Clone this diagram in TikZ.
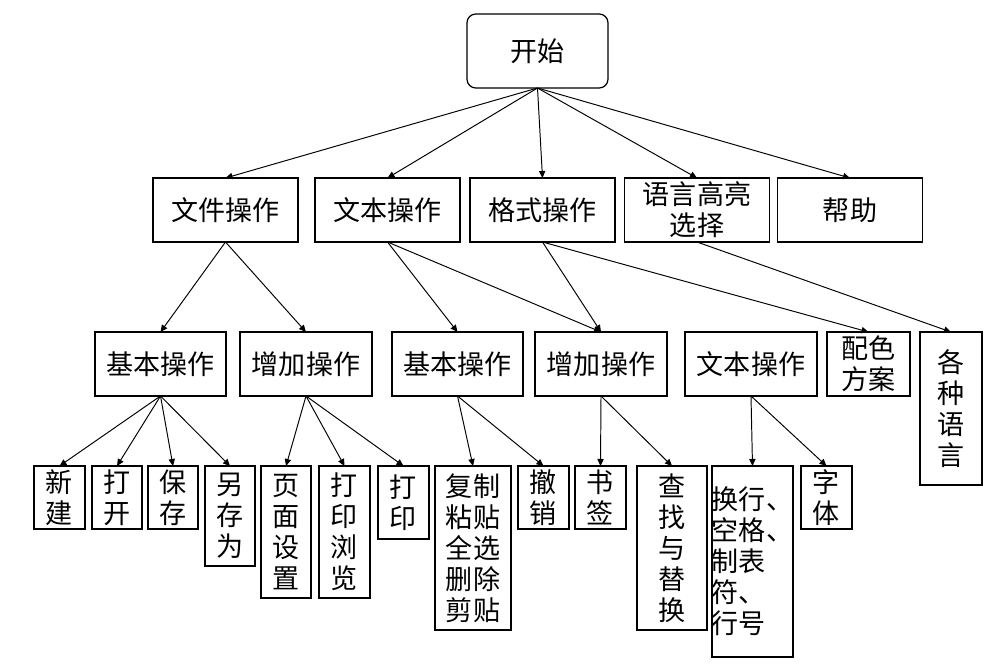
\documentclass[tikz,border=0pt]{standalone}
\usepackage{fontspec}
\newfontfamily\cjk{Noto Sans CJK SC}
\usetikzlibrary{arrows.meta}

\begin{document}
\begin{tikzpicture}[
  x=0.02cm, y=-0.02cm,
  every node/.style={font=\cjk\fontsize{15.4pt}{17.6pt}\selectfont},
  menubox/.style 2 args={draw, line width=0.7pt, inner sep=0pt, outer sep=0pt, align=center, minimum width=#1*0.02cm, minimum height=#2*0.02cm},
  treearrow/.style={-{Triangle[length=4pt,width=3.6pt]}, line width=0.55pt}
]
\useasboundingbox (0,0) rectangle (1007,667);

\node[menubox={141}{74}, rounded corners=5pt] (start) at (537.5,51) {开始};

\node[menubox={145}{64}] (fileop) at (225.5,210) {文件操作};
\node[menubox={145}{64}] (textop) at (387.5,210) {文本操作};
\node[menubox={145}{64}] (fmtop) at (542.5,210) {格式操作};
\node[menubox={145}{64}] (hlop) at (697,210) {语言高亮\\选择};
\node[menubox={145}{64}] (help) at (850,210) {帮助};

\node[menubox={131}{64}] (fbasic) at (160.5,364) {基本操作};
\node[menubox={132}{64}] (fextra) at (306,364) {增加操作};
\node[menubox={131}{64}] (tbasic) at (457.5,364) {基本操作};
\node[menubox={132}{64}] (textra) at (601,364) {增加操作};
\node[menubox={132}{64}] (ttext) at (751,364) {文本操作};
\node[menubox={83}{64}] (scheme) at (868.5,364) {配色\\方案};
\node[menubox={62}{153}] (langs) at (951,408.5) {各\\种\\语\\言};

\node[menubox={51}{63}] (new) at (59.5,497.5) {新\\建};
\node[menubox={50}{63}] (open) at (117,497.5) {打\\开};
\node[menubox={50}{63}] (save) at (173,497.5) {保\\存};
\node[menubox={50}{100}] (saveas) at (230,516) {另\\存\\为};
\node[menubox={50}{132}] (pagesetup) at (286,532) {页\\面\\设\\置};
\node[menubox={51}{132}] (preview) at (344.5,532) {打\\印\\浏\\览};
\node[menubox={51}{73}] (print) at (403.5,502.5) {打\\印};
\node[menubox={76}{164}] (edit) at (473,548) {复制\\粘贴\\全选\\删除\\剪贴};
\node[menubox={51}{63}] (undo) at (543.5,497.5) {撤\\销};
\node[menubox={51}{63}] (bookmark) at (600.5,497.5) {书\\签};
\node[menubox={70}{164}] (find) at (672,548) {查\\找\\与\\替\\换};
\node[menubox={81}{191}, align=left] (wrap) at (752.5,561.5) {换行、\\空格、\\制表\\符、\\行号};
\node[menubox={51}{63}] (typeface) at (826.5,497.5) {字\\体};

\foreach \k in {fileop,textop,fmtop,hlop,help}
  \draw[treearrow] (start.south) -- (\k.north);
\foreach \k in {fbasic,fextra}
  \draw[treearrow] (fileop.south) -- (\k.north);
\foreach \k in {tbasic,textra}
  \draw[treearrow] (textop.south) -- (\k.north);
\foreach \k in {textra,scheme}
  \draw[treearrow] (fmtop.south) -- (\k.north);
\draw[treearrow] (hlop.south) -- (langs.north);

\foreach \k in {new,open,save,saveas}
  \draw[treearrow] (fbasic.south) -- (\k.north);
\foreach \k in {pagesetup,preview,print}
  \draw[treearrow] (fextra.south) -- (\k.north);
\foreach \k in {edit,undo}
  \draw[treearrow] (tbasic.south) -- (\k.north);
\foreach \k in {bookmark,find}
  \draw[treearrow] (textra.south) -- (\k.north);
\foreach \k in {wrap,typeface}
  \draw[treearrow] (ttext.south) -- (\k.north);
\end{tikzpicture}
\end{document}
